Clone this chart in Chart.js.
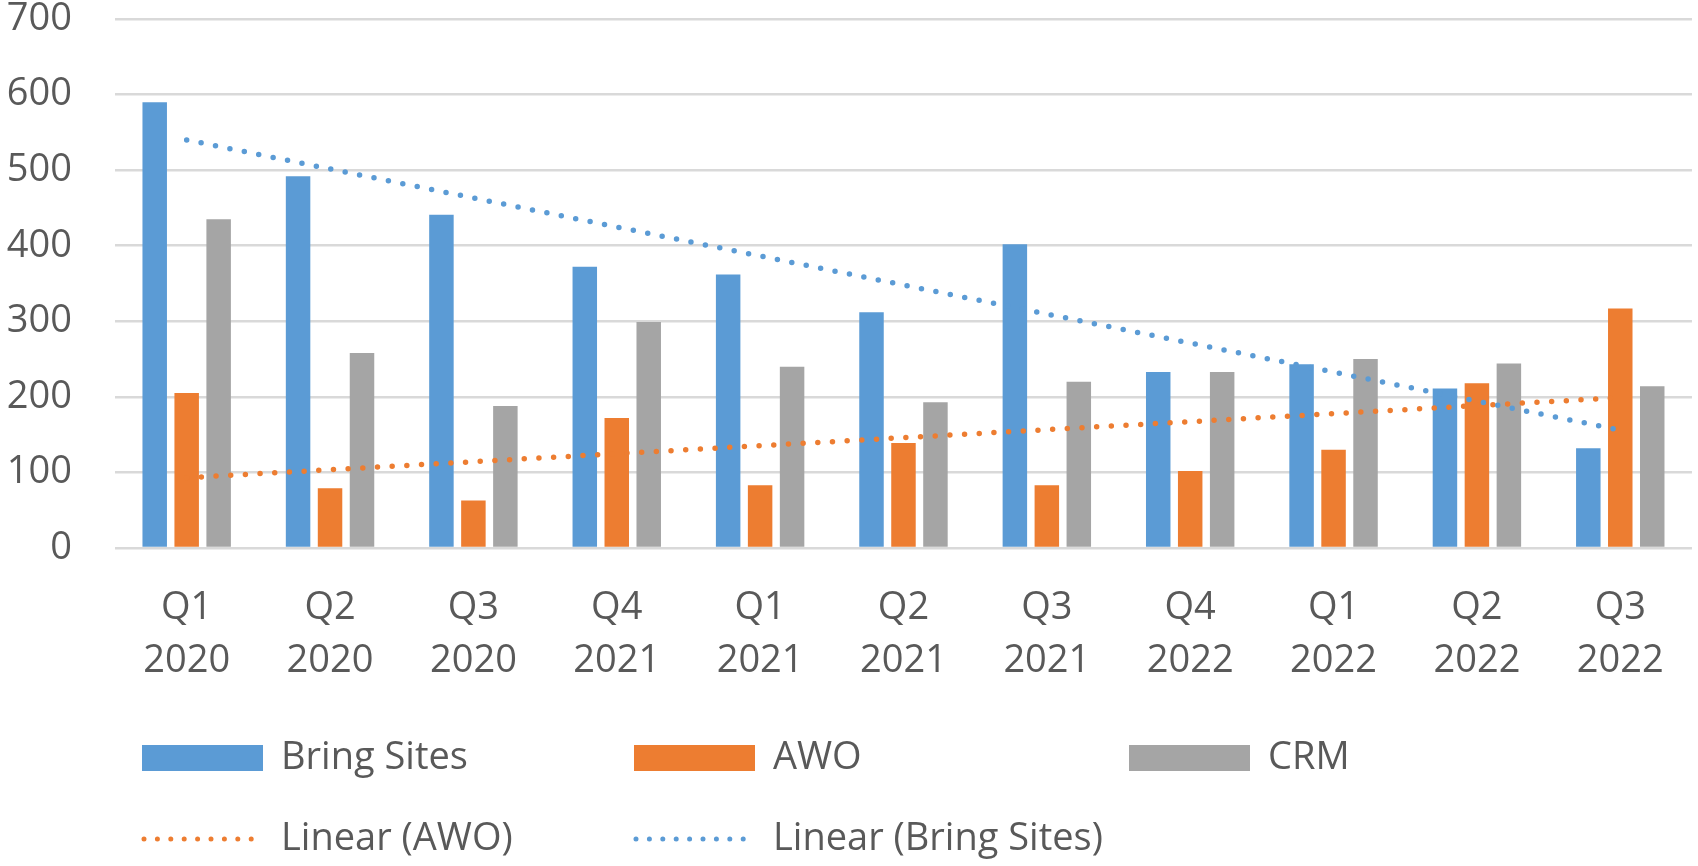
<!DOCTYPE html>
<html lang="en">
<head>
    <meta charset="UTF-8">
    <title>Bring Sites / AWO / CRM</title>
    <script src="https://cdn.jsdelivr.net/npm/chart.js@4.4.1/dist/chart.umd.min.js"></script>
    <style>
        html, body { margin: 0; padding: 0; background: #fff; }
        #wrap { position: relative; width: 1698px; height: 866px; }
    </style>
</head>
<body>
    <div id="wrap"><canvas id="chart"></canvas></div>

    <script>
        // quarter labels (two lines each)
        const quarters = ['Q1', 'Q2', 'Q3', 'Q4', 'Q1', 'Q2', 'Q3', 'Q4', 'Q1', 'Q2', 'Q3'];
        const years = ['2020', '2020', '2020', '2021', '2021', '2021', '2021', '2022', '2022', '2022', '2022'];

        // series values
        const bringSites = [590, 492, 441, 372, 362, 312, 402, 233, 243, 211, 132];
        const awo = [205, 79, 63, 172, 83, 139, 83, 102, 130, 218, 317];
        const crm = [435, 258, 188, 299, 240, 193, 220, 233, 250, 244, 214];

        // trendline ends (first and last category), straight line between
        const trendAwo = [93, null, null, null, null, null, null, null, null, null, 199];
        const trendBring = [540, null, null, null, null, null, null, null, null, null, 156];

        const yTicks = [0, 100, 200, 300, 400, 500, 600, 700];

        const labels = quarters.map((q, i) => [q, years[i]]);
        const textColor = '#595959';
        const fontFamily = '"Open Sans", "Noto Sans", sans-serif';

        // legend drawn at the bottom like Excel's
        const legendPlugin = {
            id: 'excelLegend',
            afterDraw(chart) {
                const ctx = chart.ctx;
                const ds = chart.data.datasets;
                const items = [
                    { d: ds[0], x: 142, y: 758 },
                    { d: ds[1], x: 634, y: 758 },
                    { d: ds[2], x: 1129, y: 758 },
                    { d: ds[3], x: 142, y: 839 },
                    { d: ds[4], x: 634, y: 839 }
                ];
                ctx.save();
                items.forEach(it => {
                    if (it.d.type === 'line') {
                        ctx.strokeStyle = it.d.borderColor;
                        ctx.lineWidth = 5;
                        ctx.lineCap = 'round';
                        ctx.setLineDash([0, 13.4]);
                        ctx.beginPath();
                        ctx.moveTo(it.x + 2, it.y);
                        ctx.lineTo(it.x + 121, it.y);
                        ctx.stroke();
                        ctx.setLineDash([]);
                    } else {
                        ctx.fillStyle = it.d.backgroundColor;
                        ctx.fillRect(it.x, it.y - 13, 121, 26);
                    }
                    ctx.fillStyle = textColor;
                    ctx.font = '38px ' + fontFamily;
                    ctx.textBaseline = 'middle';
                    ctx.textAlign = 'left';
                    ctx.fillText(it.d.label, it.x + 139, it.y);
                });
                ctx.restore();
            }
        };

        const ctx = document.getElementById('chart').getContext('2d');
        new Chart(ctx, {
            data: {
                labels: labels,
                datasets: [
                    { type: 'bar', label: 'Bring Sites', data: bringSites, backgroundColor: '#5B9BD5', order: 2 },
                    { type: 'bar', label: 'AWO', data: awo, backgroundColor: '#ED7D31', order: 2 },
                    { type: 'bar', label: 'CRM', data: crm, backgroundColor: '#A5A5A5', order: 2 },
                    {
                        type: 'line', label: 'Linear (AWO)', data: trendAwo, spanGaps: true,
                        borderColor: '#ED7D31', borderWidth: 5.5, borderDash: [0, 14.7],
                        borderCapStyle: 'round', pointRadius: 0, fill: false, order: 1
                    },
                    {
                        type: 'line', label: 'Linear (Bring Sites)', data: trendBring, spanGaps: true,
                        borderColor: '#5B9BD5', borderWidth: 5.5, borderDash: [0, 14.7],
                        borderCapStyle: 'round', pointRadius: 0, fill: false, order: 0
                    }
                ]
            },
            options: {
                responsive: true,
                maintainAspectRatio: false,
                animation: false,
                layout: { padding: { top: 0, right: 6, left: 0, bottom: 0 } },
                datasets: {
                    bar: { categoryPercentage: 0.669, barPercentage: 0.766 }
                },
                plugins: {
                    legend: { display: false },
                    tooltip: { enabled: false }
                },
                scales: {
                    x: {
                        grid: { display: false, drawTicks: false },
                        border: { display: false },
                        ticks: {
                            color: textColor,
                            font: { family: fontFamily, size: 38, lineHeight: 1.39 },
                            padding: 34,
                            maxRotation: 0,
                            autoSkip: false
                        },
                        afterFit(scale) { scale.height = 318; }
                    },
                    y: {
                        min: 0,
                        max: 700,
                        afterBuildTicks(scale) { scale.ticks = yTicks.map(v => ({ value: v })); },
                        grid: { color: '#D9D9D9', lineWidth: 2.5, drawTicks: false },
                        border: { display: false },
                        ticks: {
                            color: textColor,
                            font: { family: fontFamily, size: 38, lineHeight: 1 },
                            padding: 43
                        },
                        afterFit(scale) {
                            scale.width = 115;
                            scale.paddingTop = 19;
                            scale.paddingBottom = 0;
                        }
                    }
                }
            },
            plugins: [legendPlugin]
        });
    </script>
</body>
</html>
